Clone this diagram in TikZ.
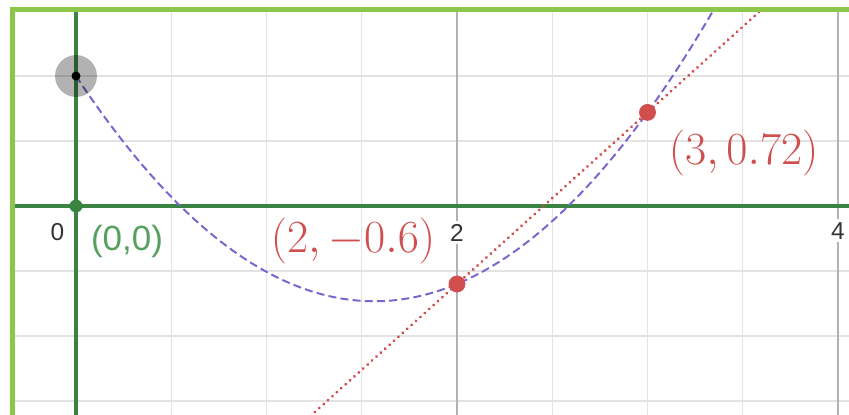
\documentclass[tikz,border=0pt]{standalone}
\usepackage{graphicx}
\usepackage[no-math]{fontspec}
\newfontfamily\arialfont{Liberation Sans}
\usetikzlibrary{calc}
\definecolor{framegreen}{RGB}{140,198,74}
\definecolor{axisgreen}{RGB}{58,132,66}
\definecolor{ptgreen}{RGB}{86,160,96}
\definecolor{secred}{RGB}{208,78,78}
\definecolor{curvepurple}{RGB}{125,100,205}
\newcommand{\ptmath}[1]{\scalebox{1.315}{$#1$}}

\begin{document}
\begin{tikzpicture}[x=4.7625cm,y=3.25cm,font=\arialfont,
  minorgrid/.style={gray!22,line width=1pt},
  majorgrid/.style={gray!60,line width=1.4pt},
  axisline/.style={axisgreen,line width=2.85pt},
  ticklabel/.style={anchor=base,fill=white,inner sep=2pt,text=black!80,font=\arialfont\fontsize{17.4}{20}\selectfont},
  ptlabel/.style={anchor=base,text=secred,font=\fontsize{24.88}{30}\selectfont}]
\useasboundingbox (-0.39895,-1.6) rectangle (4.0577,1.58462);
\begin{scope}
\clip (-0.3333,-1.6) rectangle (4.0577,1.5092);
\foreach \x in {0.5,1,...,3.5}{\draw[minorgrid] (\x,-1.7)--(\x,1.7);}
\foreach \y in {-1.5,-1,...,1.5}{\draw[minorgrid] (-0.5,\y)--(4.2,\y);}
\foreach \x in {2,4}{\draw[majorgrid] (\x,-1.7)--(\x,1.7);}
\draw[axisline] (-0.5,0)--(4.2,0); \draw[axisline] (0,-1.7)--(0,1.7);
\coordinate (A) at (0,1); \coordinate (O) at (0,0);
\coordinate (P) at (2,-0.6); \coordinate (Q) at (3,0.72);
\draw[curvepurple,line width=1.4pt,dash pattern=on 5.7pt off 3pt,domain=0:3.45,samples=80] plot (\x,{0.7067*\x*\x-2.2133*\x+1});
\draw[secred,line width=2.3pt,line cap=round,dash pattern=on 0.01pt off 4.2pt] ($(P)!-1!(Q)$)--($(P)!2!(Q)$);
\end{scope}
\draw[framegreen,line width=3.5pt] (-0.3333,-1.7)--(-0.3333,1.5092)--(4.1,1.5092);
% tick labels
\node[ticklabel,fill=none] (t0) at (-0.097,-0.262) {0};
\node[ticklabel] (t2) at (2,-0.27) {2};
\node[ticklabel] (t4) at (4,-0.254) {4};
% points
\fill[black,opacity=0.3] (A) circle (14.9pt); \fill[black] (A) circle (3.2pt);
\fill[axisgreen] (O) circle (4.6pt);
\fill[secred] (P) circle (6pt); \fill[secred] (Q) circle (6pt);
\node[anchor=base,text=ptgreen,font=\arialfont\fontsize{24.9}{30}\selectfont] (lo) at (0.268,-0.346) {(0,0)};
\node[ptlabel] (lp) at (1.454,-0.354) {\ptmath{(2,-0.6)}};
\node[ptlabel] (lq) at (3.505,0.323) {\ptmath{(3,0.72)}};
\end{tikzpicture}
\end{document}
